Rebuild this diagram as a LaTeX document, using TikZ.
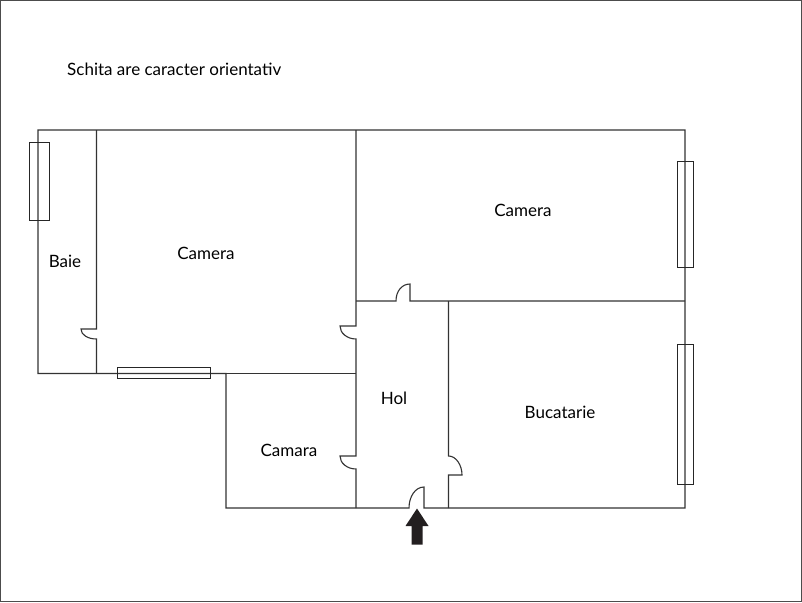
\documentclass[tikz,border=0pt]{standalone}
\usepackage{fontspec}
\setmainfont{Lato}
\definecolor{wallcol}{HTML}{333333}
\definecolor{arrowcol}{HTML}{231F20}
\tikzset{
  wall/.style={draw=wallcol, line width=1.1pt},
  window/.style={draw=black!85, line width=.9pt},
  room/.style={inner sep=0pt, font=\fontsize{17}{20}\selectfont},
}
\begin{document}
\begin{tikzpicture}[x=1pt, y=-1pt]
    \useasboundingbox (0,0) rectangle (802,602);
    \draw[draw=black!70, line width=1.2pt] (.6,.6) rectangle (801.4,601.4);

    \node[room, anchor=west] (note) at (67,69) {Schita are caracter orientativ};
    \node[room] (baie) at (65,261) {Baie};
    \node[room] (camera1) at (206,253) {Camera};
    \node[room] (camera2) at (523,210) {Camera};
    \node[room] (hol) at (394,398) {Hol};
    \node[room] (bucatarie) at (560,412) {Bucatarie};
    \node[room] (camara) at (289,450) {Camara};

    % outer walls
    \draw[wall] (38,130) -- (685,130) -- (685,508) -- (424,508) -- (424,487)
        .. controls (415,487) and (409,497) .. (409,508) -- (226,508) -- (226,373.5)
        -- (38,373.5) -- cycle;
    \draw[wall] (226,373.5) -- (356,373.5);
    % baie
    \draw[wall] (96.5,130) -- (96.5,329) -- (81,329)
        .. controls (81,335) and (88,339) .. (96.5,339) -- (96.5,373.5);
    % camera / hol
    \draw[wall] (356,130) -- (356,326) -- (340,326)
        .. controls (340,333) and (347,339) .. (356,339) -- (356,456) -- (340,456)
        .. controls (340,463) and (347,469) .. (356,469) -- (356,508);
    \draw[wall] (356,301) -- (396,301)
        .. controls (396,291) and (402,284) .. (410,284) -- (410,301) -- (685,301);
    % bucatarie
    \draw[wall] (448.5,301) -- (448.5,456)
        .. controls (456,456) and (462,465) .. (462,475) -- (448.5,475) -- (448.5,508);

    % windows
    \draw[window] (29.5,142) rectangle (49.5,220.5);
    \draw[window] (677.5,161) rectangle (693.5,267);
    \draw[window] (677.5,344.5) rectangle (693.5,484);
    \draw[window] (117.5,367.5) rectangle (210.5,378.5);

    % entrance
    \fill[arrowcol] (417,508.5) -- (428.5,526) -- (422.5,526) -- (422.5,544.5)
        -- (411.5,544.5) -- (411.5,526) -- (405.5,526) -- cycle;
\end{tikzpicture}
\end{document}
